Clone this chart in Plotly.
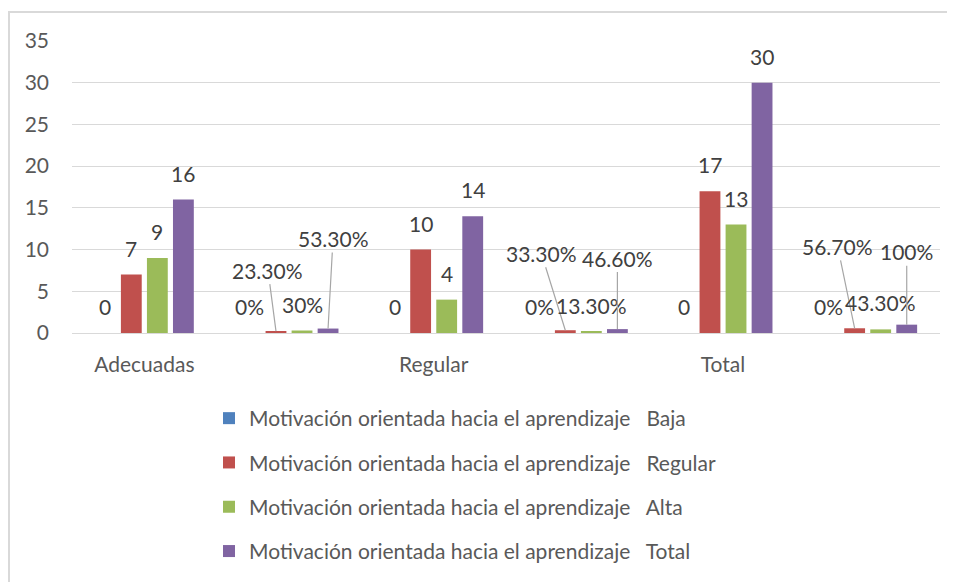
import plotly.graph_objects as go

# ---------------- data ----------------
categories = ["Adecuadas", "", "Regular", "", "Total", ""]
series_names = [
    "Motivación orientada hacia el aprendizaje\u00a0\u00a0\u00a0Baja",
    "Motivación orientada hacia el aprendizaje\u00a0\u00a0\u00a0Regular",
    "Motivación orientada hacia el aprendizaje\u00a0\u00a0\u00a0Alta",
    "Motivación orientada hacia el aprendizaje\u00a0\u00a0\u00a0Total",
]
baja = [0, 0, 0, 0, 0, 0]
regular = [7, 0.233, 10, 0.333, 17, 0.567]
alta = [9, 0.30, 4, 0.133, 13, 0.433]
total = [16, 0.533, 14, 0.466, 30, 1.0]

baja_lbl = ["0", "0%", "0", "0%", "0", "0%"]
regular_lbl = ["7", "23.30%", "10", "33.30%", "17", "56.70%"]
alta_lbl = ["9", "30%", "4", "13.30%", "13", "43.30%"]
total_lbl = ["16", "53.30%", "14", "46.60%", "30", "100%"]

y_ticks = [0, 5, 10, 15, 20, 25, 30, 35]

# ---------------- style ----------------
colors = ["#4f81bd", "#c0504d", "#9bbb59", "#8064a2"]
FONT = "Lato, Calibri, sans-serif"
FS = 21
LBL_COLOR = "#404040"
TXT_COLOR = "#595959"
GRID = "#d9d9d9"

W, H = 955, 582
OFF = 8  # page body margin offset
# target plot area in page pixels: x 72..940, y 41..333
ML = 72 - OFF
MT = 41 - OFF
MR = W - (940 - OFF)
MB = H - (333 - OFF)
BARGAP, GROUPGAP = 0.28, 0.2

# labels drawn with leader lines: (series index, category index) -> (ax, ay) pixel offsets
leader = {
    (1, 1): (-8, -61),
    (3, 1): (5, -90),
    (1, 3): (-24, -77),
    (3, 3): (0, -71),
    (1, 5): (-17, -82),
    (3, 5): (0, -73),
}

values = [baja, regular, alta, total]
labels = [baja_lbl, regular_lbl, alta_lbl, total_lbl]
xs = list(range(len(categories)))

fig = go.Figure()
for i, (name, vals) in enumerate(zip(series_names, values)):
    fig.add_trace(go.Bar(
        x=xs, y=vals, name=name, marker=dict(color=colors[i], line=dict(width=0)),
        legendgroup=f"g{i}", hoverinfo="skip",
    ))

n = len(values)
slot = (1 - BARGAP) / n
annotations = []
for i in range(n):
    for j in xs:
        xo = j - (1 - BARGAP) / 2 + slot * (i + 0.5)
        v = values[i][j]
        t = labels[i][j]
        if (i, j) in leader:
            ax, ay = leader[(i, j)]
            annotations.append(dict(
                x=xo, y=v, xref="x", yref="y", text=t, showarrow=True,
                arrowhead=0, arrowwidth=1.2, arrowcolor="#a6a6a6",
                ax=ax, ay=ay, standoff=0, startstandoff=0,
                font=dict(family=FONT, size=FS, color=LBL_COLOR),
            ))
        else:
            annotations.append(dict(
                x=xo, y=v, xref="x", yref="y", text=t, showarrow=False,
                yanchor="bottom", yshift=12,
                font=dict(family=FONT, size=FS, color=LBL_COLOR),
            ))

pw = W - ML - MR
ph = H - MT - MB
def px_x(p):  # page pixel -> paper x
    return (p - OFF - ML) / pw
def px_y(p):  # page pixel -> paper y
    return (H - MB - (p - OFF)) / ph

fig.update_layout(
    width=W, height=H,
    margin=dict(l=ML, r=MR, t=MT, b=MB, pad=0, autoexpand=False),
    paper_bgcolor="white", plot_bgcolor="white",
    barmode="group", bargap=BARGAP, bargroupgap=GROUPGAP,
    font=dict(family=FONT, size=FS, color=TXT_COLOR),
    annotations=annotations,
    showlegend=True,
    legend=dict(
        orientation="v", x=px_x(209), y=px_y(398), xanchor="left", yanchor="top",
        font=dict(family=FONT, size=FS, color=TXT_COLOR),
        traceorder="grouped", tracegroupgap=14, itemwidth=30,
        bgcolor="rgba(0,0,0,0)",
    ),
    shapes=[dict(
        type="rect", xref="paper", yref="paper",
        x0=px_x(9), x1=px_x(975), y0=px_y(600), y1=px_y(12),
        line=dict(color=GRID, width=2), fillcolor="rgba(0,0,0,0)", layer="below",
    )],
    xaxis=dict(
        range=[-0.5, len(categories) - 0.5], tickmode="array", tickvals=xs,
        ticktext=categories, showgrid=False, zeroline=False, showline=True,
        linecolor=GRID, linewidth=1, ticks="", ticklabelstandoff=13,
        tickfont=dict(family=FONT, size=FS, color=TXT_COLOR), fixedrange=True,
    ),
    yaxis=dict(
        range=[0, 35], tickmode="array", tickvals=y_ticks, showgrid=True,
        gridcolor=GRID, gridwidth=1, zeroline=False, showline=False, ticks="",
        ticklabelstandoff=22,
        tickfont=dict(family=FONT, size=FS, color=TXT_COLOR), fixedrange=True,
    ),
)

fig.write_html("out.html")
